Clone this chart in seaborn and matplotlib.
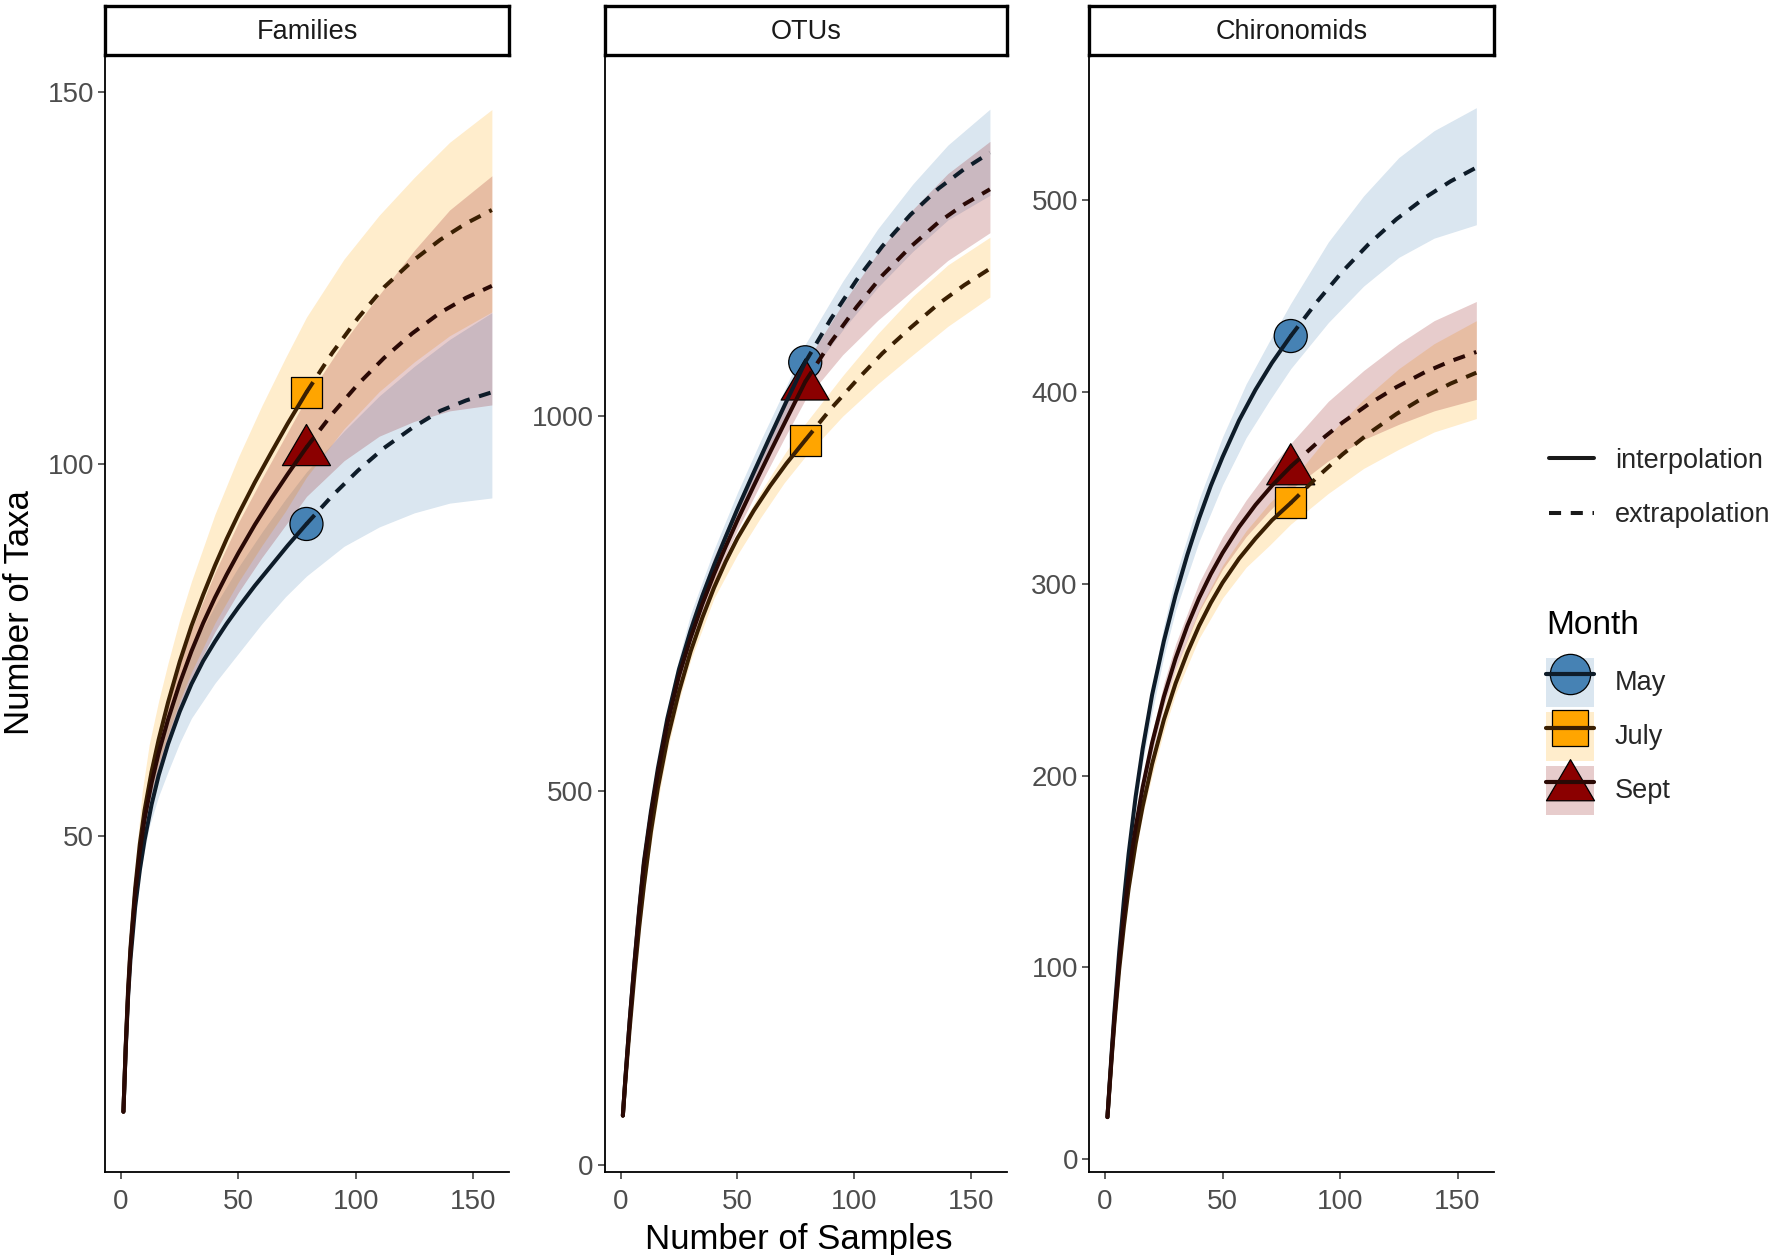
import numpy as np
import pandas as pd
import seaborn as sns
import matplotlib
matplotlib.use("Agg")
import matplotlib.pyplot as plt
from matplotlib.lines import Line2D
from matplotlib.patches import Patch
from matplotlib.path import Path

# ---------------- data ----------------
# estimated richness curves, read at these sample sizes
samples = [1, 2, 3, 4, 6, 8, 10, 13, 16, 20, 25, 30, 35, 40, 45, 50, 57, 64, 71, 79,
           90, 101, 112, 124, 136, 147, 158]
reference_size = 79
months = ["May", "July", "Sept"]
panels = ["Families", "OTUs", "Chironomids"]

families_may = [13, 21.5, 28.5, 33.5, 40.5, 45.5, 49.5, 54.3, 58.2, 62.4, 66.8, 70.5, 73.6, 76.2,
                78.6, 80.8, 83.7, 86.4, 89.1, 92, 95.8, 99.2, 102.2, 104.9, 107.2, 108.6, 109.7]
families_july = [13, 22, 29.5, 35, 43, 49, 53.5, 58.7, 63, 68, 73.5, 78.3, 82.5, 86.4, 90, 93.3,
                 97.6, 101.6, 105.5, 109.7, 115, 119.7, 123.8, 127.3, 130.2, 132.4, 134.2]
families_sept = [13, 21.8, 29, 34.5, 42.3, 48, 52.3, 57.2, 61.2, 65.7, 70.6, 74.9, 78.7, 82.1,
                 85.2, 88.1, 91.9, 95.4, 98.7, 102.3, 106.8, 110.8, 114.3, 117.6, 120.4, 122.4, 124]

otus_may = [66, 112, 155, 196, 272, 342, 405, 472, 530, 596, 662, 714, 760, 801, 839, 876, 925,
            973, 1020, 1072, 1130, 1182, 1227, 1269, 1304, 1330, 1352]
otus_july = [66, 109, 148, 185, 255, 318, 373, 445, 504, 568, 632, 686, 731, 771, 806, 837, 874,
             907, 937, 968, 1010, 1048, 1084, 1118, 1150, 1175, 1197]
otus_sept = [66, 112, 154, 195, 270, 339, 401, 467, 524, 589, 653, 704, 749, 789, 826, 861, 907,
             952, 996, 1046, 1099, 1146, 1188, 1226, 1259, 1283, 1303]

chiro_may = [22, 41, 59.5, 77, 108, 135, 159, 189, 214, 242, 270, 294, 315, 334, 351, 366, 385,
             401, 415, 429, 446.6, 462.6, 476.7, 489.9, 501, 509.6, 516.8]
chiro_july = [22, 39, 56, 71.5, 99, 121.5, 141, 164.5, 184, 206, 229, 248, 264, 278, 290, 300.5,
              313, 323.5, 333, 342, 355.2, 367.3, 378.1, 388.4, 397.3, 404.2, 409.9]
chiro_sept = [22, 40, 57.5, 74, 103, 127, 148, 173, 194, 217, 241, 261, 278, 292.5, 305, 316,
              329.5, 341, 351, 361, 373.1, 383.9, 393.4, 402.4, 410.1, 415.9, 420.7]

# confidence bands, read at these sample sizes
band_samples = [1, 2, 4, 6, 9, 12, 16, 20, 25, 30, 40, 50, 60, 70, 79, 95, 110, 125, 140, 158]

families_may_lo = [13, 21, 33, 40.5, 46.5, 51.3, 55.4, 58.7, 62.6, 65.9, 70.6, 74.6, 78.6, 82.2, 85, 89, 91.6, 93.5, 94.8, 95.5]
families_may_hi = [13, 22, 35, 43.5, 50.5, 56.3, 61.4, 65.7, 70.6, 75.1, 81, 86.2, 90.9, 95.3, 99, 104.5, 109.2, 113.2, 116.8, 120.4]
families_july_lo = [13, 21.5, 33.8, 42, 50, 55.2, 59.8, 63.7, 68.2, 72.1, 78.7, 84.2, 89.1, 93.7, 98.3, 104.8, 109.8, 113.8, 117.3, 120.5]
families_july_hi = [13, 22.5, 36.2, 46, 56, 62.4, 68.2, 73.3, 79.2, 84.3, 93.3, 101, 107.9, 114.3, 119.8, 127.6, 133.5, 138.6, 143.3, 147.7]
families_sept_lo = [13, 21.4, 33.7, 41.8, 49.9, 54.8, 59.1, 62.8, 67.3, 71.2, 77.5, 82.8, 87.5, 91.8, 95.7, 100.5, 103.8, 105.8, 107.2, 108]
families_sept_hi = [13, 22.2, 35.3, 44.2, 53.1, 58.8, 63.9, 68.2, 73.3, 77.8, 85.5, 92.2, 98.1, 103.8, 108.9, 116.5, 122.8, 128.8, 134.2, 138.8]

otus_may_lo = [66, 108, 186, 260, 353, 437, 520, 587, 653, 708, 790, 862, 928, 990, 1048, 1115, 1172, 1220, 1262, 1295]
otus_may_hi = [66, 112, 194, 270, 367, 453, 540, 609, 677, 736, 822, 898, 968, 1034, 1096, 1180, 1250, 1310, 1362, 1410]
otus_july_lo = [66, 106, 179, 247, 332, 408, 487, 553, 620, 674, 757, 815, 865, 911, 946, 1000, 1043, 1082, 1120, 1159]
otus_july_hi = [66, 110, 187, 257, 344, 422, 503, 571, 640, 696, 783, 845, 899, 949, 990, 1054, 1110, 1160, 1202, 1239]
otus_sept_lo = [66, 108, 185, 258, 350, 433, 514, 580, 644, 698, 780, 848, 910, 970, 1022, 1082, 1128, 1168, 1208, 1245]
otus_sept_hi = [66, 112, 193, 268, 364, 449, 534, 602, 668, 726, 812, 884, 950, 1012, 1070, 1150, 1218, 1276, 1324, 1367]

chiro_may_lo = [22, 40, 74, 104, 143, 175, 207, 233, 262, 286, 322, 351.5, 376, 395.5, 412, 436, 455, 470, 480, 487]
chiro_may_hi = [22, 42, 78, 110, 151, 185, 219, 247, 278, 304, 344, 376.5, 404, 426.5, 446, 478, 502, 522, 536, 548]
chiro_july_lo = [22, 38, 70.5, 97, 128, 153, 179.5, 200, 223, 242.5, 271.5, 292.5, 308.5, 320, 331, 347, 360, 370, 379, 386]
chiro_july_hi = [22, 40, 73.5, 101, 134, 161, 188.5, 210, 235, 255.5, 286.5, 309.5, 327.5, 342, 353, 377, 396, 412, 425, 437]
chiro_sept_lo = [22, 39, 72.5, 101, 135, 162, 190.5, 212, 236, 255.5, 285.5, 307.5, 324.5, 338, 349, 364, 375, 383, 390, 396]
chiro_sept_hi = [22, 41, 75.5, 105, 141, 170, 199.5, 222, 248, 268.5, 300.5, 324.5, 343.5, 360, 373, 395, 411, 425, 437, 447]

y_ticks = {"Families": [50, 100, 150], "OTUs": [0, 500, 1000],
           "Chironomids": [0, 100, 200, 300, 400, 500]}
x_ticks = [0, 50, 100, 150]

curves = {
    ("Families", "May"): families_may, ("Families", "July"): families_july,
    ("Families", "Sept"): families_sept,
    ("OTUs", "May"): otus_may, ("OTUs", "July"): otus_july, ("OTUs", "Sept"): otus_sept,
    ("Chironomids", "May"): chiro_may, ("Chironomids", "July"): chiro_july,
    ("Chironomids", "Sept"): chiro_sept,
}
bands = {
    ("Families", "May"): (families_may_lo, families_may_hi),
    ("Families", "July"): (families_july_lo, families_july_hi),
    ("Families", "Sept"): (families_sept_lo, families_sept_hi),
    ("OTUs", "May"): (otus_may_lo, otus_may_hi),
    ("OTUs", "July"): (otus_july_lo, otus_july_hi),
    ("OTUs", "Sept"): (otus_sept_lo, otus_sept_hi),
    ("Chironomids", "May"): (chiro_may_lo, chiro_may_hi),
    ("Chironomids", "July"): (chiro_july_lo, chiro_july_hi),
    ("Chironomids", "Sept"): (chiro_sept_lo, chiro_sept_hi),
}

rows = []
for (panel, month), vals in curves.items():
    for m, q in zip(samples, vals):
        if m <= reference_size:
            rows.append(dict(Panel=panel, Month=month, m=m, qD=q, Method="interpolation"))
        if m >= reference_size:
            rows.append(dict(Panel=panel, Month=month, m=m, qD=q, Method="extrapolation"))
df = pd.DataFrame(rows)

brows = []
for (panel, month), (lo, hi) in bands.items():
    for m, l, h in zip(band_samples, lo, hi):
        brows.append(dict(Panel=panel, Month=month, m=m, lo=l, hi=h))
dfb = pd.DataFrame(brows)

# ---------------- style ----------------
sns.set_theme(style="ticks")
plt.rcParams["font.family"] = ["Liberation Sans", "DejaVu Sans"]

fill_colors = {"May": "#4682B4", "July": "#FFA500", "Sept": "#8B0000"}
line_colors = {"May": "#0e1c29", "July": "#3a1f02", "Sept": "#2a0905"}
tri = Path([(0, 0.95), (-1, -0.76), (1, -0.76), (0, 0.95)], closed=True)
marker_shapes = {"May": "o", "July": "s", "Sept": tri}
marker_sizes = {"May": 566, "July": 498, "Sept": 1197}
LW = 2.9
DASH = (3.0, 2.4)

W, H = 1770, 1255
fig = plt.figure(figsize=(W / 100, H / 100), dpi=100)

panel_px = {"Families": (105, 509), "OTUs": (604.5, 1007), "Chironomids": (1089, 1493.5)}
top_px, bottom_px = 54.5, 1172
ylims = {"Families": (4.9, 155.1), "OTUs": (-9.3, 1483), "Chironomids": (-6.6, 575.7)}

for panel in panels:
    x0, x1 = panel_px[panel]
    ax = fig.add_axes([x0 / W, 1 - bottom_px / H, (x1 - x0) / W, (bottom_px - top_px) / H])
    d = df[df.Panel == panel]
    db = dfb[dfb.Panel == panel]
    for month in months:
        dm = db[db.Month == month].sort_values("m")
        ax.fill_between(dm["m"], dm["lo"], dm["hi"], color=fill_colors[month],
                        alpha=0.2, lw=0, zorder=1)
    pts = d[(d.m == reference_size) & (d.Method == "interpolation")]
    sns.scatterplot(data=pts, x="m", y="qD", hue="Month", style="Month", size="Month",
                    hue_order=months, style_order=months, size_order=months,
                    palette=fill_colors, markers=marker_shapes, sizes=marker_sizes,
                    edgecolor="black", linewidth=0.9, legend=False, ax=ax, zorder=3)
    sns.lineplot(data=d, x="m", y="qD", hue="Month", style="Method",
                 hue_order=months, style_order=["interpolation", "extrapolation"],
                 palette=line_colors,
                 dashes={"interpolation": "", "extrapolation": DASH},
                 estimator=None, sort=True, legend=False, ax=ax, lw=LW, zorder=4)
    ax.set_xlim(-6.85, 165.3)
    ax.set_ylim(*ylims[panel])
    ax.set_xticks(x_ticks)
    ax.set_yticks(y_ticks[panel])
    ax.set_xlabel("")
    ax.set_ylabel("")
    for s in ["top", "right"]:
        ax.spines[s].set_visible(False)
    for s in ["left", "bottom"]:
        ax.spines[s].set_color("black")
        ax.spines[s].set_linewidth(1.3)
    ax.tick_params(axis="both", direction="out", length=5, width=1.1, color="#333333",
                   labelsize=20, labelcolor="#4d4d4d", pad=3)
    ax.tick_params(axis="x", pad=7)
    ax.set_facecolor("white")

    # facet strip
    sax = fig.add_axes([x0 / W, 1 - top_px / H, (x1 - x0) / W, (top_px - 6) / H])
    sax.set_xticks([])
    sax.set_yticks([])
    for s in sax.spines.values():
        s.set_visible(True)
        s.set_color("black")
        s.set_linewidth(2.4)
    sax.text(0.5, 0.47, panel, ha="center", va="center", fontsize=19.5, color="#1a1a1a",
             transform=sax.transAxes)

fig.text(20 / W, 1 - 613 / H, "Number of Taxa", rotation=90, ha="center", va="center",
         fontsize=25, color="black")
fig.text(799 / W, 1 - 1240 / H, "Number of Samples", ha="center", va="center",
         fontsize=25, color="black")

# legends
method_handles = [Line2D([], [], color="#1a1a1a", lw=LW),
                  Line2D([], [], color="#1a1a1a", lw=LW, dashes=DASH)]
fig.legend(method_handles, ["interpolation", "extrapolation"], loc="center left",
           bbox_to_anchor=(1549 / W, 1 - 488 / H), frameon=False, fontsize=19.5,
           handlelength=1.66, handletextpad=0.78, labelspacing=1.05,
           borderpad=0, borderaxespad=0)

fig.text(1546 / W, 1 - 625.5 / H, "Month", ha="left", va="center", fontsize=24, color="black")
legend_marker_ms = {"May": 29, "July": 26, "Sept": 34.6}
month_handles = []
for mo in months:
    month_handles.append((
        Patch(facecolor=fill_colors[mo], alpha=0.2, edgecolor="none"),
        Line2D([], [], ls="none", marker=marker_shapes[mo], ms=legend_marker_ms[mo],
               mfc=fill_colors[mo], mec="black", mew=0.9),
        Line2D([], [], color=line_colors[mo], lw=3),
    ))
fig.legend(month_handles, months, loc="upper left",
           bbox_to_anchor=(1546 / W, 1 - 657.5 / H), frameon=False, fontsize=19.5,
           handlelength=1.77, handleheight=2.41, handletextpad=0.78,
           labelspacing=0.185, borderpad=0, borderaxespad=0)

fig.savefig("out.png", dpi=100, facecolor="white")
